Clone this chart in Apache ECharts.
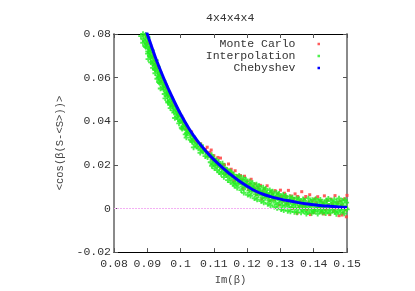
<!DOCTYPE html>
<html>
<head>
<meta charset="utf-8">
<script src="https://cdn.jsdelivr.net/npm/echarts@6/dist/echarts.min.js"></script>
<style>html,body{margin:0;padding:0;background:#fff}#c{width:415px;height:291px}</style>
</head>
<body>
<div id="c"></div>
<script>
var titleText = '4x4x4x4';
var xName = 'Im(β)';
var yName = '<cos(β(S-<S>))>';
var seriesNames = ['Monte Carlo', 'Interpolation', 'Chebyshev'];
var xTicks = [0.08, 0.09, 0.10, 0.11, 0.12, 0.13, 0.14, 0.15];
var yTicks = [-0.02, 0, 0.02, 0.04, 0.06, 0.08];

var chebyshev = [[0.0895,0.0822],[0.0900,0.0800],[0.0925,0.0690],[0.0950,0.0595],[0.0975,0.0510],[0.1000,0.0433],[0.1025,0.0367],[0.1050,0.0311],[0.1075,0.0265],[0.1100,0.0224],[0.1125,0.0189],[0.1150,0.0156],[0.1175,0.0127],[0.1200,0.0102],[0.1225,0.0080],[0.1250,0.0064],[0.1275,0.0052],[0.1300,0.0043],[0.1325,0.0035],[0.1350,0.0028],[0.1375,0.0022],[0.1400,0.0017],[0.1425,0.0013],[0.1450,0.0010],[0.1475,0.0007],[0.1500,0.0005]];

var monteCarlo = [
[.08962,.0790],[.09033,.0772],[.09006,.0758],[.09087,.0740],[.09067,.0722],[.09189,.0708],[.0917,.0694],[.09246,.0676],[.09226,.0661],[.09303,.0647],[.09383,.0628],[.09375,.0612],[.09442,.0598],[.09418,.0582],[.09566,.0566],[.0956,.0551],[.09642,.0533],[.09634,.0519],[.09743,.0503],[.09761,.0488],[.09766,.0471],[.09902,.0457],[.09924,.0441],[.09946,.0426],[.10077,.0410],[.1008,.0396],[.10171,.0380],[.10165,.0366],[.10331,.0351],[.1033,.0338],[.1043,.0322],[.10449,.0309],[.10602,.0296],[.10612,.0283],[.10748,.0271],[.10783,.0258],
[.1080,.0281],[.1084,.0241],[.1088,.0257],[.1092,.0268],[.1096,.0226],[.1100,.0242],[.1104,.0225],[.1108,.0201],[.1112,.0234],[.1116,.0203],[.1120,.0231],[.1124,.0184],[.1128,.0200],[.1132,.0200],[.1136,.0160],[.1140,.0178],[.1144,.0204],[.1148,.0157],[.1152,.0180],[.1156,.0160],[.1160,.0126],[.1164,.0173],[.1168,.0140],[.1172,.0150],[.1176,.0118],[.1180,.0151],[.1184,.0132],[.1188,.0092],[.1192,.0148],[.1196,.0107],[.1200,.0125],[.1204,.0087],[.1208,.0112],[.1212,.0134],[.1216,.0083],[.1220,.0095],[.1224,.0112],[.1228,.0063],[.1232,.0095],[.1236,.0078],[.1240,.0106],[.1244,.0043],[.1248,.0077],[.1252,.0091],[.1256,.0058],[.1260,.0104],[.1264,.0065],[.1268,.0035],[.1272,.0078],[.1276,.0068],[.1280,.0040],[.1284,.0082],[.1288,.0050],[.1292,.0067],[.1296,.0016],[.1300,.0084],[.1304,.0055],[.1308,.0034],[.1312,.0070],[.1316,.0056],[.1320,.0022],[.1324,.0083],[.1328,.0039],[.1332,.0057],[.1336,.0000],[.1340,.0046],[.1344,.0067],[.1348,.0028],[.1352,.0055],[.1356,.0008],[.1360,.0035],[.1364,.0077],[.1368,.0012],[.1372,.0044],[.1376,.0055],[.1380,-.0005],[.1384,.0026],[.1388,.0063],[.1392,.0015],[.1396,.0035],[.1400,-.0018],[.1404,.0045],[.1408,.0026],[.1412,.0054],[.1416,.0005],[.1420,.0036],[.1424,-.0017],[.1428,.0026],[.1432,.0058],[.1436,-.0004],[.1440,.0037],[.1444,.0016],[.1448,-.0028],[.1452,.0043],[.1456,.0022],[.1460,-.0013],[.1464,.0059],[.1468,.0002],[.1472,.0027],[.1476,-.0033],[.1480,.0035],[.1484,.0015],[.1488,-.0021],[.1492,.0044],[.1496,-.0007],[.1500,.0060],
[.1498,-.0038],[.1485,-.0030],[.1430,-.0025],[.1390,-.0028],[.1350,-.0022]
];

var interpolation = [
[.08951,.0795],[.08871,.0800],[.08811,.0790],
[.08945,.0780],[.09015,.0785],[.08875,.0775],
[.0893,.0765],[.0900,.0770],[.0887,.0760],
[.09064,.0750],[.08984,.0755],[.08934,.0745],
[.09038,.0735],[.08958,.0740],[.09078,.0730],
[.09022,.0720],[.09142,.0725],[.09062,.0715],
[.09126,.0705],[.09016,.0710],[.09076,.0700],
[.0919,.0690],[.0910,.0695],[.0903,.0685],
[.09159,.0675],[.09259,.0680],[.09109,.0670],
[.09249,.0660],[.09159,.0665],[.09219,.0655],
[.09168,.0645],[.09318,.0650],[.09228,.0640],
[.09308,.0630],[.09248,.0635],[.09368,.0625],
[.09377,.0615],[.09237,.0620],[.09317,.0610],
[.09337,.0600],[.09397,.0605],[.09297,.0595],
[.09489,.0585],[.09409,.0590],[.09349,.0580],
[.09464,.0570],[.09374,.0575],[.09504,.0565],
[.09478,.0555],[.09558,.0560],[.09398,.0550],
[.09572,.0540],[.09492,.0545],[.09632,.0535],
[.09516,.0525],[.09586,.0530],[.09626,.0520],
[.0970,.0510],[.0960,.0515],[.0954,.0505],
[.09669,.0495],[.09729,.0500],[.09619,.0490],
[.09747,.0480],[.09627,.0485],[.09687,.0475],
[.09836,.0465],[.09756,.0470],[.09696,.0460],
[.09775,.0450],[.09855,.0455],[.09915,.0445],
[.09874,.0435],[.09804,.0440],[.09924,.0430],
[.09899,.0420],[.09999,.0425],[.09829,.0415],
[.10026,.0405],[.09926,.0410],[.09976,.0400],
[.09953,.0390],[.10063,.0395],[.10123,.0385],
[.10080,.0375],[.10150,.0380],[.10030,.0370],
[.10171,.0360],[.10051,.0365],[.10231,.0355],
[.10188,.0345],[.10268,.0350],[.10148,.0340],
[.10375,.0330],[.10285,.0335],[.10175,.0325],
[.10302,.0315],[.10392,.0320],[.10342,.0310],
[.10500,.0300],[.10350,.0305],[.10440,.0295],
[.10491,.0285],[.10621,.0290],[.10391,.0280],
[.10623,.0270],[.10533,.0275],[.10673,.0265],
[.10591,.0255],[.10681,.0260],[.10811,.0250],
[.10742,.0240],[.10932,.0245],[.10812,.0235],
[.1090,.0212],[.1092,.0238],[.1094,.0195],[.1096,.0226],[.1098,.0204],
[.1100,.0228],[.1102,.0184],[.1104,.0210],[.1106,.0197],[.1108,.0221],
[.1110,.0176],[.1112,.0202],[.1114,.0214],[.1116,.0166],[.1118,.0190],
[.1120,.0198],[.1122,.0158],[.1124,.0183],[.1126,.0206],[.1128,.0170],
[.1130,.0144],[.1132,.0187],[.1134,.0163],[.1136,.0176],[.1138,.0152],
[.1140,.0178],[.1142,.0130],[.1144,.0160],[.1146,.0145],[.1148,.0171],
[.1150,.0121],[.1152,.0166],[.1154,.0138],[.1156,.0152],[.1158,.0113],
[.1160,.0155],[.1162,.0104],[.1164,.0132],[.1166,.0118],[.1168,.0146],
[.1170,.0095],[.1172,.0140],[.1174,.0112],[.1176,.0150],[.1178,.0124],
[.1180,.0131],[.1182,.0084],[.1184,.0118],[.1186,.0101],[.1188,.0140],
[.1190,.0072],[.1192,.0122],[.1194,.0096],[.1196,.0133],[.1198,.0108],
[.1200,.0113],[.1202,.0063],[.1204,.0099],[.1206,.0082],[.1208,.0124],
[.1210,.0058],[.1212,.0105],[.1214,.0076],[.1216,.0117],[.1218,.0090],
[.1220,.0098],[.1222,.0047],[.1224,.0083],[.1226,.0066],[.1228,.0110],
[.1230,.0041],[.1232,.0090],[.1234,.0061],[.1236,.0103],[.1238,.0075],
[.1240,.0084],[.1242,.0034],[.1244,.0069],[.1246,.0052],[.1248,.0096],
[.1250,.0027],[.1252,.0078],[.1254,.0048],[.1256,.0090],[.1258,.0062],
[.1260,.0071],[.1262,.0021],[.1264,.0056],[.1266,.0039],[.1268,.0084],
[.1270,.0015],[.1272,.0066],[.1274,.0034],[.1276,.0078],[.1278,.0050],
[.1280,.0060],[.1282,.0008],[.1284,.0043],[.1286,.0026],[.1288,.0072],
[.1290,.0002],[.1292,.0056],[.1294,.0020],[.1296,.0067],[.1298,.0038],
[.1300,.0051],[.1302,-.0004],[.1304,.0032],[.1306,.0015],[.1308,.0062],
[.1310,-.0008],[.1312,.0046],[.1314,.0012],[.1316,.0058],[.1318,.0027],
[.1320,.0041],[.1322,-.0011],[.1324,.0024],[.1326,.0008],[.1328,.0053],
[.1330,-.0014],[.1332,.0037],[.1334,.0005],[.1336,.0050],[.1338,.0020],
[.1340,.0034],[.1342,-.0016],[.1344,.0017],[.1346,.0002],[.1348,.0047],
[.1350,-.0018],[.1352,.0031],[.1354,-.0001],[.1356,.0044],[.1358,.0014],
[.1360,.0028],[.1362,-.0019],[.1364,.0012],[.1366,-.0004],[.1368,.0042],
[.1370,-.0012],[.1372,.0035],[.1374,.0003],[.1376,.0019],[.1378,-.0024],
[.1380,.0007],[.1382,-.0017],[.1384,.0046],[.1386,.0024],[.1388,-.0002],
[.1390,.0031],[.1392,.0011],[.1394,-.0021],[.1396,.0039],[.1398,-.0008],
[.1400,-.0015],[.1402,.0022],[.1404,.0002],[.1406,.0044],[.1408,-.0005],
[.1410,.0016],[.1412,-.0024],[.1414,.0034],[.1416,.0008],[.1418,-.0011],
[.1420,.0040],[.1422,-.0003],[.1424,.0025],[.1426,-.0019],[.1428,.0012],
[.1430,-.0009],[.1432,.0029],[.1434,.0005],[.1436,-.0022],[.1438,.0037],
[.1440,.0021],[.1442,-.0014],[.1444,.0045],[.1446,.0000],[.1448,.0013],
[.1450,-.0020],[.1452,.0034],[.1454,.0009],[.1456,-.0006],[.1458,.0026],
[.1460,.0004],[.1462,.0041],[.1464,-.0016],[.1466,.0019],[.1468,-.0025],
[.1470,.0030],[.1472,-.0010],[.1474,.0014],[.1476,.0046],[.1478,-.0002],
[.1480,-.0018],[.1482,.0023],[.1484,.0006],[.1486,.0036],[.1488,-.0008],
[.1490,.0011],[.1492,-.0023],[.1494,.0039],[.1496,.0001],[.1498,.0027],
[.1500,-.0004]
];

var MONO = '"Liberation Mono", "DejaVu Sans Mono", monospace';
var chart = echarts.init(document.getElementById('c'), null, {renderer: 'canvas'});

function fmt(v) { var r = Math.round(v * 100) / 100; return r === 0 ? '0' : String(r); }

var xMin = xTicks[0], xMax = xTicks[xTicks.length - 1];
var yMin = yTicks[0], yMax = yTicks[yTicks.length - 1];

var option = {
  animation: false,
  backgroundColor: '#fff',
  title: {
    text: titleText, left: 206, top: 12, padding: 0,
    textStyle: {fontFamily: MONO, fontSize: 11.5, fontWeight: 'normal', color: '#333'}
  },
  legend: {
    orient: 'vertical', right: 95, top: 38, padding: 0, itemGap: 0,
    align: 'right', itemWidth: 2.5, itemHeight: 2.5, selectedMode: false,
    textStyle: {fontFamily: MONO, fontSize: 11.5, color: '#333', lineHeight: 12, padding: [0, 17, 0, 0]},
    data: [
      {name: seriesNames[0], icon: 'rect'},
      {name: seriesNames[1], icon: 'rect'},
      {name: seriesNames[2], icon: 'rect'}
    ]
  },
  grid: {left: 114, right: 68, top: 34, bottom: 35},
  xAxis: [{
    type: 'value', min: xMin, max: xMax, interval: 0.01, position: 'bottom',
    name: xName, nameLocation: 'middle', nameGap: 22,
    nameTextStyle: {fontFamily: MONO, fontSize: 10.5, color: '#444'},
    axisLine: {show: true, onZero: false, lineStyle: {color: '#000', width: 1}},
    axisTick: {show: true, inside: true, length: 4, lineStyle: {color: '#555'}},
    axisLabel: {fontFamily: MONO, fontSize: 11.5, color: '#333', margin: 6, formatter: fmt},
    splitLine: {show: false}
  }, {
    type: 'value', min: xMin, max: xMax, interval: 0.01, position: 'top',
    axisLine: {show: true, onZero: false, lineStyle: {color: '#000', width: 1}},
    axisTick: {show: true, inside: true, length: 4, lineStyle: {color: '#555'}},
    axisLabel: {show: false}, splitLine: {show: false}
  }],
  yAxis: [{
    type: 'value', min: yMin, max: yMax, interval: 0.02, position: 'left',
    name: yName, nameLocation: 'middle', nameGap: 48, nameRotate: 90,
    nameTextStyle: {fontFamily: MONO, fontSize: 10.5, color: '#444'},
    axisLine: {show: true, onZero: false, lineStyle: {color: '#8a8a8a', width: 2}},
    axisTick: {show: true, inside: true, length: 4, lineStyle: {color: '#555'}},
    axisLabel: {fontFamily: MONO, fontSize: 11.5, color: '#333', margin: 3, formatter: fmt},
    splitLine: {show: false}
  }, {
    type: 'value', min: yMin, max: yMax, interval: 0.02, position: 'right',
    axisLine: {show: true, onZero: false, lineStyle: {color: '#8a8a8a', width: 2}},
    axisTick: {show: true, inside: true, length: 4, lineStyle: {color: '#555'}},
    axisLabel: {show: false}, splitLine: {show: false}
  }],
  series: [{
    name: seriesNames[0], type: 'scatter', xAxisIndex: 0, yAxisIndex: 0,
    data: monteCarlo, symbol: 'rect', symbolSize: 3,
    itemStyle: {color: '#ff4040', opacity: 0.85}, clip: true,
    markLine: {
      silent: true, symbol: 'none', label: {show: false},
      lineStyle: {color: '#f4b0f4', type: [2, 1], width: 1},
      data: [{yAxis: 0}]
    }
  }, {
    name: seriesNames[1], type: 'scatter', xAxisIndex: 0, yAxisIndex: 0,
    data: interpolation, symbol: 'path://M2,0H4V2H6V4H4V6H2V4H0V2H2Z', symbolSize: 5.5,
    itemStyle: {color: '#22ee22'}, clip: true
  }, {
    name: seriesNames[2], type: 'line', xAxisIndex: 0, yAxisIndex: 0,
    data: chebyshev, smooth: 0.3, showSymbol: false, symbol: 'none',
    lineStyle: {color: '#0000ff', width: 3}, itemStyle: {color: '#0000ff'}, clip: true
  }]
};
chart.setOption(option);
</script>
</body>
</html>
